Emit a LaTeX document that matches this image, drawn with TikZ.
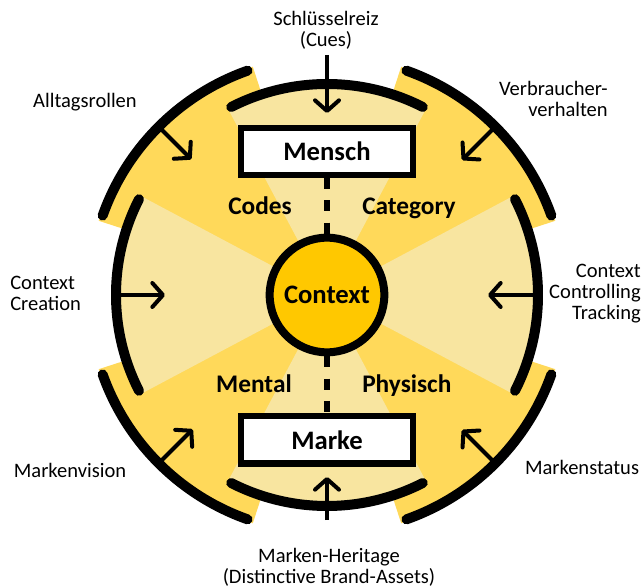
\documentclass[tikz,border=0pt]{standalone}
\usepackage{fontspec}
\setmainfont{Carlito}
\usetikzlibrary{arrows.meta}
\definecolor{hell}{RGB}{248,229,160}
\definecolor{gelb}{RGB}{255,217,90}
\definecolor{gold}{RGB}{255,200,0}
\begin{document}
\begin{tikzpicture}[x=0.75pt,y=0.75pt,
  pfeil/.style={line width=3pt,-{Straight Barb[length=8pt,width=18pt,line cap=round,line join=round]}},
  bogen/.style={line width=7.5pt,line cap=round},
  kasten/.style={draw,line width=4.5pt,fill=white,minimum width=128.25pt,minimum height=35.25pt,inner sep=0pt,font=\fontsize{20}{24}\selectfont\bfseries},
  strich/.style={line width=5pt,dash pattern=on 8.25pt off 8.5pt},
  etikett/.style={inner sep=0pt,font=\fontsize{15.4}{15.8}\selectfont},
  sektor/.style={inner sep=0pt,font=\fontsize{19}{22}\selectfont\bfseries}]
\useasboundingbox (-327,-293) rectangle (315,295);
% Sektoren
\foreach \w in {45,135,225,315}
  \fill[gelb] (0,0) -- ({\w-27}:240) arc[start angle=\w-27,end angle=\w+27,radius=240] -- cycle;
\foreach \w in {0,90,180,270}
  \fill[hell] (0,0) -- ({\w-28}:211) arc[start angle=\w-28,end angle=\w+28,radius=211] -- cycle;
% Ringe
\foreach \w in {0,90,180,270}
  \draw[bogen] ({\w-27}:211) arc[start angle=\w-27,end angle=\w+27,radius=211];
\foreach \w in {45,135,225,315}
  \draw[bogen] ({\w-25.5}:238) arc[start angle=\w-25.5,end angle=\w+25.5,radius=238];
% Pfeile
\foreach \w/\a/\b in {90/240/182,270/225/182,135/237/192,45/237/191,225/237/190,315/237/191,180/211/162,0/211/161}{
  \coordinate (p\w a) at (\w:\a);
  \coordinate (p\w b) at (\w:\b);
  \draw[pfeil] (p\w a) -- (p\w b);
}
% Mitte
\node[kasten] (mensch) at (0,143.5) {Mensch};
\node[kasten] (marke) at (0,-145) {Marke};
\node[circle,draw,line width=6pt,fill=gold,minimum size=86pt,inner sep=0pt,font=\fontsize{20}{24}\selectfont\bfseries] (context) at (0,0) {Context};
\draw[strich] (mensch.south) -- (context.north);
\draw[strich] (context.south) -- (marke.north);
\node[sektor,anchor=base east] (codes) at (-35,80) {Codes};
\node[sektor,anchor=base west] (category) at (35,80) {Category};
\node[sektor,anchor=base east] (mental) at (-35,-98) {Mental};
\node[sektor,anchor=base west] (physisch) at (35,-98) {Physisch};
% Beschriftung
\node[etikett,align=center] (cues) at (-1,265) {Schlüsselreiz\\(Cues)};
\node[etikett] (alltag) at (-242,193) {Alltagsrollen};
\node[etikett,align=right,anchor=east] (verbraucher) at (281,196) {Verbraucher-\\verhalten};
\node[etikett,align=left,anchor=west] (creation) at (-317,2) {Context\\Creation};
\node[etikett,align=right,anchor=east] (controlling) at (314,1) {Context\\Controlling\\Tracking};
\node[etikett] (vision) at (-257,-175) {Markenvision};
\node[etikett] (status) at (255,-172) {Markenstatus};
\node[etikett,align=center] (heritage) at (2,-272) {Marken-Heritage\\(Distinctive Brand-Assets)};
\end{tikzpicture}
\end{document}
